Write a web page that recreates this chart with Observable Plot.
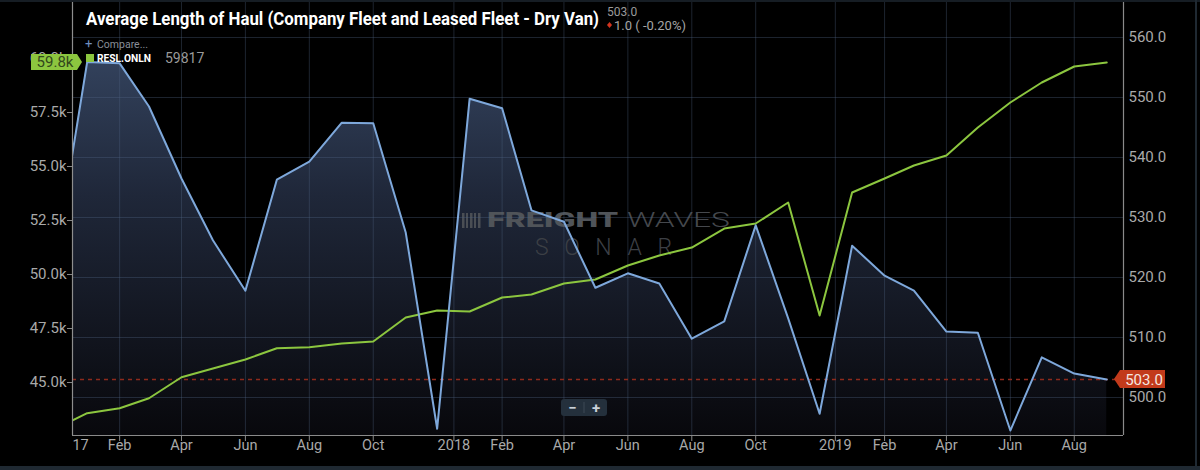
<!DOCTYPE html>
<html><head><meta charset="utf-8">
<script src="https://cdn.jsdelivr.net/npm/d3@7"></script>
<script src="https://cdn.jsdelivr.net/npm/@observablehq/plot@0.6"></script>
<style>
html,body{margin:0;padding:0;background:#000;overflow:hidden;}
#chart{width:1200px;height:470px;}
</style></head><body><div id="chart"></div>
<script>
// ---- data ----
const months = ["2016-12-01",
  "2017-01-01","2017-02-01","2017-03-01","2017-04-01","2017-05-01","2017-06-01","2017-07-01","2017-08-01","2017-09-01","2017-10-01","2017-11-01","2017-12-01",
  "2018-01-01","2018-02-01","2018-03-01","2018-04-01","2018-05-01","2018-06-01","2018-07-01","2018-08-01","2018-09-01","2018-10-01","2018-11-01","2018-12-01",
  "2019-01-01","2019-02-01","2019-03-01","2019-04-01","2019-05-01","2019-06-01","2019-07-01","2019-08-01","2019-09-01"];
// Average length of haul (miles) - right axis
const haulMiles = [522.3,
  555.9,555.7,548.5,536.5,526.2,517.8,536.3,539.3,545.8,545.7,527.5,494.8,
  549.8,548.2,531.2,529.3,518.3,520.7,519.0,509.8,512.7,528.7,513.2,497.3,
  525.3,520.3,517.8,511.0,510.8,494.5,506.7,504.0,503.0];
// RESL.ONLN - left axis
const reslValues = [42833,
  43579,43810,44273,45245,45648,46065,46588,46634,46806,46898,48009,48333,
  48287,48935,49074,49583,49769,50417,50880,51250,52130,52361,53333,48102,
  53796,54444,55046,55509,56806,57963,58889,59630,59817];
const rightTicks = [500,510,520,530,540,550,560];
const leftTicks = [45000,47500,50000,52500,55000,57500,60000];
const xTickDates = ["2017-02-01","2017-04-01","2017-06-01","2017-08-01","2017-10-01","2017-12-17",
  "2018-02-01","2018-04-01","2018-06-01","2018-08-01","2018-10-01","2018-12-16",
  "2019-02-01","2019-04-01","2019-06-01","2019-08-01"];
const xTickLabels = ["Feb","Apr","Jun","Aug","Oct","2018","Feb","Apr","Jun","Aug","Oct","2019","Feb","Apr","Jun","Aug"];
const firstTick = {date:"2016-12-17", label:"17"};
const xDomain = ["2016-12-18","2019-09-17"];
const yDomain = [493.67, 566.17];
const lastHaul = 503.0, lastResl = 59817;
const title = "Average Length of Haul (Company Fleet and Leased Fleet - Dry Van)";

// left axis (RESL) mapped onto right axis units
const toR = L => 502.5 + (L - 45000) * 0.0036;

const rows = months.map((m,i)=>({date:new Date(m), haul:haulMiles[i], resl:toR(reslValues[i])}));
const xt = xTickDates.map((d,i)=>({date:new Date(d), label:xTickLabels[i]}));

const gridColor = "rgba(80,100,130,0.36)";
const axisText = "#a9a9a9";
const font = "Roboto, 'Noto Sans', sans-serif";

function defsMark(index, scales, values, dims){
  const defs = d3.create("svg:defs");
  const lg = defs.append("linearGradient").attr("id","haulGrad")
    .attr("gradientUnits","userSpaceOnUse").attr("x1",0).attr("x2",0)
    .attr("y1",dims.marginTop).attr("y2",dims.height-dims.marginBottom);
  lg.append("stop").attr("offset","0").attr("stop-color","#3b4d6b");
  lg.append("stop").attr("offset","0.45").attr("stop-color","#1f2739");
  lg.append("stop").attr("offset","1").attr("stop-color","#08080c");
  return defs.node();
}

function watermark(){
  const g = d3.create("svg:g").attr("font-family", font).attr("text-anchor","start");
  const ic = g.append("g").attr("fill","#4a4e54");
  [0,4,8,12,16].forEach((o,i)=>ic.append("rect").attr("x",462+o).attr("y",213).attr("width",i%2?2:2.5).attr("height",15));
  g.append("text").attr("x",487).attr("y",227).attr("font-size",20).attr("font-weight",900)
    .attr("fill","#505459").attr("textLength",131).attr("lengthAdjust","spacingAndGlyphs").text("FREIGHT");
  g.append("text").attr("x",627).attr("y",227).attr("font-size",20).attr("font-weight",300)
    .attr("fill","#45484d").attr("textLength",103).attr("lengthAdjust","spacingAndGlyphs").text("WAVES");
  g.append("text").attr("x",535).attr("y",255).attr("font-size",23).attr("font-weight",300)
    .attr("fill","#3c3f45").attr("textLength",137).attr("lengthAdjust","spacing").text("SONAR");
  return g.node();
}

function chrome(index, scales, values, dims){
  const g = d3.create("svg:g").attr("font-family", font).attr("text-anchor","start");
  // frame borders
  g.append("rect").attr("x",0).attr("y",0).attr("width",1200).attr("height",2).attr("fill","#161d24");
  g.append("rect").attr("x",0).attr("y",466).attr("width",1200).attr("height",4).attr("fill","#1f2932");
  g.append("rect").attr("x",1195).attr("y",0).attr("width",2).attr("height",470).attr("fill","#1f2932");
  // title
  g.append("text").attr("x",86).attr("y",25).attr("font-size",19).attr("font-weight",700)
    .attr("fill","#ffffff").attr("textLength",513).attr("lengthAdjust","spacingAndGlyphs").text(title);
  g.append("text").attr("x",607).attr("y",16).attr("font-size",12).attr("fill","#9a9a9a").text(lastHaul.toFixed(1));
  g.append("path").attr("d","M609.5,22 L612,25 L609.5,28 L607,25 Z").attr("fill","#d3341f");
  g.append("text").attr("x",614).attr("y",29.5).attr("font-size",13).attr("fill","#a5a5a5").text("1.0 ( -0.20%)");
  // legend
  g.append("text").attr("x",85).attr("y",48).attr("font-size",13).attr("fill","#6f8fc0").text("+");
  g.append("text").attr("x",97).attr("y",48).attr("font-size",10.5).attr("fill","#8a8f98").text("Compare...");
  g.append("rect").attr("x",86).attr("y",54).attr("width",8).attr("height",8).attr("fill","#8cc63f");
  g.append("text").attr("x",97).attr("y",62).attr("font-size",11.5).attr("font-weight",700)
    .attr("fill","#ffffff").attr("textLength",54).attr("lengthAdjust","spacingAndGlyphs").text("RESL.ONLN");
  g.append("text").attr("x",165).attr("y",63).attr("font-size",14).attr("fill","#9a9a9a").text(String(lastResl));
  // green value badge (left axis)
  const yg = scales.y(toR(lastResl));
  const xl = dims.marginLeft;
  g.append("path").attr("d",`M${xl-41},${yg-8} L${xl+5},${yg-8} L${xl+10},${yg} L${xl+5},${yg+8} L${xl-41},${yg+8} Z`).attr("fill","#8cc63f");
  g.append("text").attr("x",xl-17).attr("y",yg+5.5).attr("text-anchor","middle").attr("font-size",15)
    .attr("fill","#33481c").text((lastResl/1000).toFixed(1)+"k");
  // red value badge (right axis)
  const yr = scales.y(lastHaul);
  const xr = dims.width - dims.marginRight;
  g.append("path").attr("d",`M${xr-9},${yr} L${xr-3},${yr-9} L${xr+42},${yr-9} L${xr+42},${yr+9} L${xr-3},${yr+9} Z`).attr("fill","#c23a1b");
  g.append("text").attr("x",xr+21).attr("y",yr+5.5).attr("text-anchor","middle").attr("font-size",15)
    .attr("fill","#f5e6e0").text(lastHaul.toFixed(1));
  // zoom buttons
  g.append("rect").attr("x",561).attr("y",399).attr("width",46).attr("height",17).attr("rx",3).attr("fill","#24303c");
  g.append("line").attr("x1",584).attr("x2",584).attr("y1",402).attr("y2",413).attr("stroke","#3c4955");
  g.append("text").attr("x",572.5).attr("y",412.5).attr("text-anchor","middle").attr("font-size",15).attr("font-weight",700).attr("fill","#c9d1d9").text("−");
  g.append("text").attr("x",596).attr("y",412.5).attr("text-anchor","middle").attr("font-size",15).attr("font-weight",700).attr("fill","#c9d1d9").text("+");
  return g.node();
}

const W = 1200, H = 470, mL = 72, mR = 77, mT = 0, mB = 35;
const plotW = W - mL - mR, plotH = H - mT - mB;

const chart = Plot.plot({
  width: W, height: H,
  marginLeft: mL, marginRight: mR, marginTop: mT, marginBottom: mB,
  style: {background: "#000", fontFamily: font, overflow: "visible"},
  x: {type: "utc", domain: xDomain.map(d=>new Date(d)), axis: null},
  y: {domain: yDomain, axis: null},
  marks: [
    defsMark,
    Plot.areaY(rows, {x: "date", y1: () => yDomain[0], y2: "haul", fill: "url(#haulGrad)", clip: true}),
    watermark,
    Plot.ruleY(rightTicks, {y: d => d, stroke: gridColor, strokeWidth: 1}),
    Plot.ruleX(xt, {x: "date", stroke: gridColor, strokeWidth: 1}),
    Plot.ruleY([lastHaul], {y: d => d, stroke: "#8e2a1c", strokeWidth: 1.3, strokeDasharray: "4,4"}),
    Plot.line(rows, {x: "date", y: "resl", stroke: "#8cc63f", strokeWidth: 2, clip: true}),
    Plot.line(rows, {x: "date", y: "haul", stroke: "#7ea8db", strokeWidth: 2, clip: true}),
    // axis lines
    Plot.ruleX([new Date(xDomain[0])], {x: d => d, stroke: "#8e8e8e", strokeWidth: 1.2}),
    Plot.ruleX([new Date(xDomain[1])], {x: d => d, stroke: "#8a8a8a", strokeWidth: 1.2}),
    Plot.ruleY([yDomain[0]], {y: d => d, stroke: "#8a8a8a", strokeWidth: 1.2}),
    // bottom ticks & labels
    Plot.tickX(xt, {x: "date", stroke: "#8a8a8a", insetTop: plotH, insetBottom: -6}),
    Plot.text(xt, {x: "date", text: "label", frameAnchor: "bottom", dy: 14, fill: axisText, fontSize: 14.5}),
    Plot.text([firstTick], {x: d => new Date(d.date), text: "label", frameAnchor: "bottom", dy: 14, dx: 1, textAnchor: "start", fill: axisText, fontSize: 14.5}),
    // left axis
    Plot.tickY(leftTicks, {y: d => toR(d), stroke: "#8a8a8a", insetLeft: -5, insetRight: plotW}),
    Plot.text(leftTicks, {y: d => toR(d), text: d => (d/1000).toFixed(1) + "k", frameAnchor: "left", textAnchor: "end", dx: -6, fill: axisText, fontSize: 15}),
    // right axis
    Plot.text(rightTicks, {y: d => d, text: d => d.toFixed(1), frameAnchor: "right", textAnchor: "start", dx: 5, fill: axisText, fontSize: 15}),
    chrome
  ]
});
document.getElementById("chart").appendChild(chart);
</script></body></html>
